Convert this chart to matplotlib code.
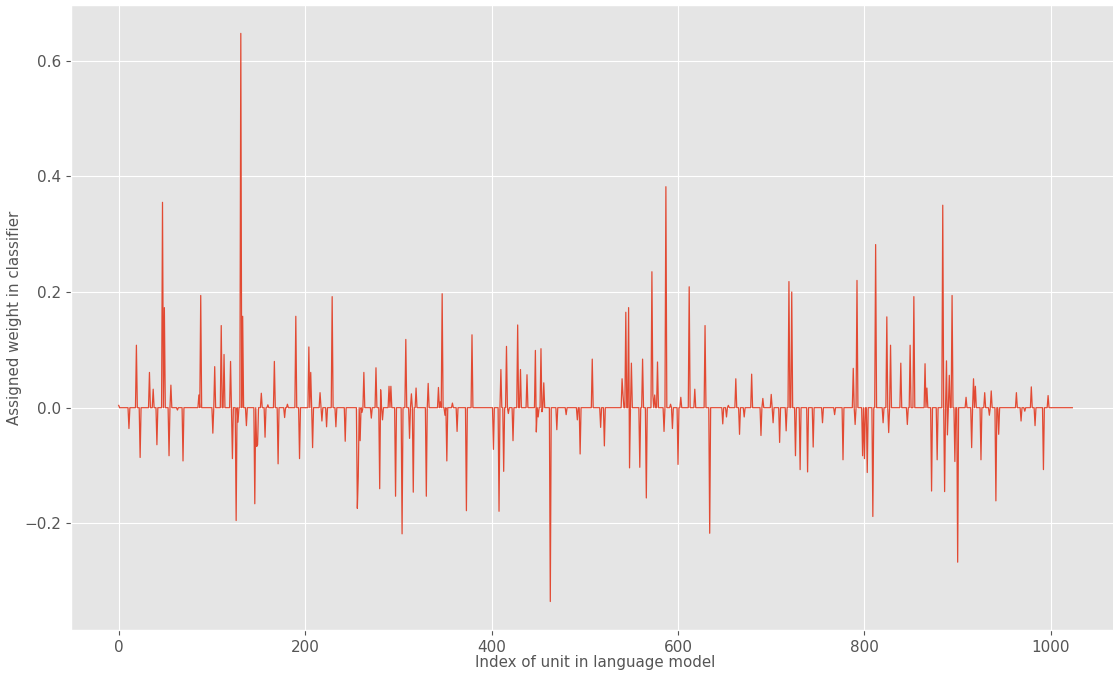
import numpy as np
import matplotlib
matplotlib.use("Agg")
import matplotlib.pyplot as plt

plt.style.use("ggplot")

n_units = 1024
spike_idx = [0, 11, 19, 23, 33, 37, 41, 47, 49, 54, 56, 63, 69, 86, 88, 101, 103, 110, 113,
             120, 122, 126, 128, 131, 133, 137, 146, 148, 149, 153, 157, 160, 167, 171, 178, 181,
             190, 194, 204, 206, 208, 216, 218, 223, 229, 233, 243,
             256, 257, 259, 261, 263, 271, 276, 280, 281, 283, 290, 292, 297, 304, 308, 312, 314,
             316, 319, 330, 332, 343, 345, 347, 350, 352, 358, 363, 373, 379,
             402, 408, 410, 413, 416, 418, 423, 428, 431, 438, 447, 448, 450, 453, 454, 456, 463,
             470, 480, 492, 495, 508, 517, 521,
             540, 541, 544, 547, 548, 550, 559, 562, 566, 572, 573, 575, 578, 585, 587, 592, 594,
             600, 603, 612, 618, 629, 634, 648, 652, 654,
             662, 666, 671, 679, 689, 691, 700, 702, 709, 716, 719, 722, 726, 731, 739, 745, 755,
             768, 777, 788, 790,
             792, 798, 800, 803, 809, 812, 820, 824, 826, 828, 839, 846, 849, 853, 865, 867, 872,
             878, 884, 886, 888, 889, 891, 894, 897, 900, 909, 915, 917, 919,
             925, 929, 934, 936, 941, 944, 963, 968, 972, 979, 983, 992, 997]
spike_val = [0.004, -0.036, 0.108, -0.086, 0.061, 0.032, -0.064, 0.355, 0.173, -0.083, 0.039,
             -0.004, -0.092, 0.022, 0.194, -0.044, 0.071, 0.142, 0.092,
             0.080, -0.088, -0.195, -0.025, 0.647, 0.158, -0.031, -0.166, -0.067, -0.064, 0.025,
             -0.051, 0.005, 0.080, -0.097, -0.017, 0.006,
             0.158, -0.088, 0.105, 0.061, -0.069, 0.026, -0.023, -0.033, 0.192, -0.033, -0.058,
             -0.174, -0.119, -0.057, -0.008, 0.061, -0.018, 0.069, -0.140, 0.031, -0.021, 0.037,
             0.037, -0.153, -0.218, 0.118, -0.053, 0.024,
             -0.146, 0.034, -0.153, 0.042, 0.035, 0.010, 0.197, -0.013, -0.092, 0.008, -0.041,
             -0.178, 0.126,
             -0.072, -0.179, 0.066, -0.110, 0.106, -0.010, -0.057, 0.143, 0.066, 0.057, 0.099,
             -0.042, -0.016, 0.102, -0.007, 0.043, -0.335,
             -0.038, -0.012, -0.021, -0.080, 0.084, -0.034, -0.066,
             0.050, 0.022, 0.165, 0.173, -0.104, 0.077, -0.103, 0.084, -0.156, 0.235, 0.022,
             0.022, 0.079, -0.041, 0.382, 0.006, -0.036,
             -0.098, 0.018, 0.209, 0.032, 0.142, -0.217, -0.028, -0.016, 0.004,
             0.050, -0.046, -0.016, 0.058, -0.048, 0.016, 0.023, -0.026, -0.060, -0.040, 0.218,
             0.200, -0.083, -0.107, -0.111, -0.068, -0.026,
             -0.012, -0.090, 0.068, -0.029,
             0.220, -0.083, -0.088, -0.112, -0.188, 0.282, -0.026, 0.157, -0.043, 0.108, 0.077,
             -0.029, 0.108, 0.192, 0.076, 0.034, -0.144,
             -0.090, 0.350, -0.145, 0.081, -0.047, 0.056, 0.194, -0.093, -0.267, 0.018, -0.069,
             0.050, 0.037,
             -0.090, 0.026, -0.013, 0.029, -0.161, -0.046, 0.026, -0.023, -0.006, 0.036, -0.031,
             -0.107, 0.021]

weights = np.zeros(n_units)
weights[np.array(spike_idx)] = np.array(spike_val)

fig = plt.figure(figsize=(11.13, 6.73), dpi=100)
ax = fig.add_axes([0.0638, 0.064, 0.9425, 0.9286])
ax.plot(np.arange(n_units), weights, linewidth=0.9)
ax.set_xlabel("Index of unit in language model", fontsize=10.8, color="#555555", labelpad=0.5)
ax.set_ylabel("Assigned weight in classifier", fontsize=10.8, color="#555555", labelpad=1.5)
ax.tick_params(labelsize=11)
fig.savefig("out.png", dpi=100)
